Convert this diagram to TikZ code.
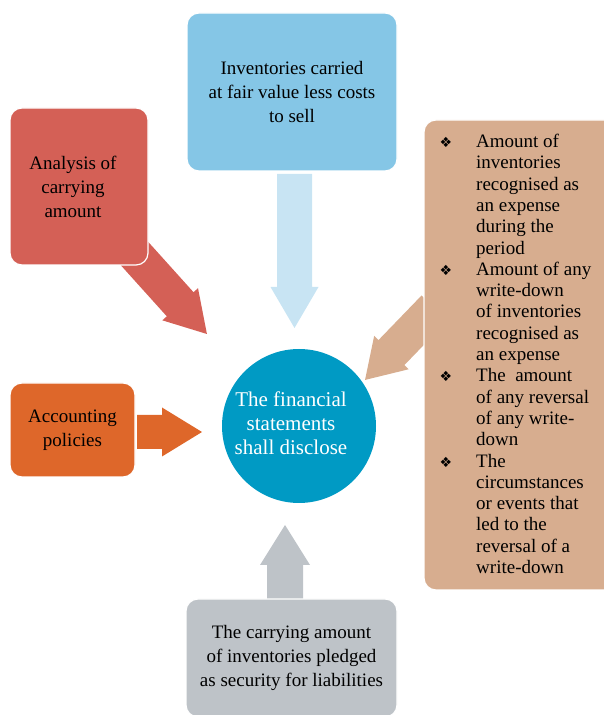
\documentclass[tikz,border=0pt]{standalone}
\usepackage{fontspec}
\setmainfont{Liberation Serif}
\newfontfamily\bulletfont{DejaVu Sans}
\usepackage{xcolor}
\usepackage{tikz}
\usetikzlibrary{positioning, calc}
\definecolor{carryred}{RGB}{212,96,86}
\definecolor{fairblue}{RGB}{133,198,230}
\definecolor{paleblue}{RGB}{200,228,243}
\definecolor{expensetan}{RGB}{215,173,143}
\definecolor{policyorange}{RGB}{222,103,42}
\definecolor{pledgegray}{RGB}{190,195,200}
\definecolor{discloseblue}{RGB}{0,154,196}
\tikzstyle{block} = [rectangle, rounded corners=12pt, draw=white, line width=1.2pt, align=center, text=black, font=\fontsize{19}{24}\selectfont, inner sep=0pt]
\tikzstyle{hub} = [circle, fill=discloseblue, minimum size=154pt, inner sep=0pt, align=center, text=white, font=\fontsize{21}{24}\selectfont]
\tikzstyle{listtext} = [anchor=north west, align=left, inner sep=0pt, text=black, font=\fontsize{19}{21.3}\selectfont]
% fill style, tail, angle, length, half shaft, half head, head length
\newcommand{\blockarrow}[7]{%
  \fill[#1, shift={(#2)}, rotate=#3] (0,-#5) -- ({#4-#7},-#5) -- ({#4-#7},-#6) -- (#4,0) -- ({#4-#7},#6) -- ({#4-#7},#5) -- (0,#5) -- cycle;}
\newcommand{\bul}{\llap{{\bulletfont\fontsize{14}{14}\selectfont ❖}\hspace{24pt}}}

\begin{document}
\begin{tikzpicture}[x=1pt, y=1pt]
    \useasboundingbox (0,0) rectangle (603,715);
    % Centre circle
    \node (disclose) [hub] at (299,289) {};
    \node (disclosetext) [align=center, text=white, font=\fontsize{21}{24}\selectfont] at (291,292) {The financial\\statements\\shall disclose};

    % Boxes (positions only, drawn after the arrows)
    \path (292,623) coordinate (fairpos)
          (79,528.5) coordinate (carrypos)
          (522,360) coordinate (expensepos)
          (72.5,285) coordinate (policypos)
          (291.5,57) coordinate (pledgepos);

    % Arrow ends
    \coordinate (fairtail) at ([xshift=2.5pt, yshift=-82pt]fairpos);
    \coordinate (pledgetail) at ([xshift=-6.5pt, yshift=58pt]pledgepos);
    \coordinate (policytail) at ([xshift=64.5pt, yshift=-2pt]policypos);
    \coordinate (carrytail) at ([xshift=55pt, yshift=-66.5pt]carrypos);
    \coordinate (expensetail) at ([xshift=-87.5pt, yshift=47pt]expensepos);

    % Arrows
    \blockarrow{paleblue}{fairtail}{-90}{154}{17.5}{24}{41}
    \blockarrow{pledgegray}{pledgetail}{90}{75}{18}{25}{40}
    \blockarrow{policyorange}{policytail}{0}{65}{17}{24.5}{40}
    \blockarrow{carryred}{carrytail}{-48}{109}{18}{24}{40}
    \blockarrow{expensetan}{expensetail}{226}{100}{18}{24}{38}

    % Boxes
    \node (fair) [block, fill=fairblue, minimum width=210pt, minimum height=158pt] at (fairpos) {Inventories carried\\at fair value less costs\\to sell};
    \node (carry) [block, fill=carryred, minimum width=138pt, minimum height=157pt] at (carrypos) {};
    \node (carrytext) [align=center, font=\fontsize{19}{24}\selectfont] at ([xshift=-6pt]carrypos) {Analysis of\\carrying\\amount};
    \node (policy) [block, fill=policyorange, minimum width=125pt, minimum height=94pt] at (policypos) {Accounting\\policies};
    \node (pledged) [block, fill=pledgegray, minimum width=211pt, minimum height=118pt] at (pledgepos) {The carrying amount\\of inventories pledged\\as security for liabilities};
    \node (expense) [block, fill=expensetan, minimum width=196pt, minimum height=470pt] at (expensepos) {};
    \node (items) [listtext] at (476,581) {\bul Amount of\\inventories\\recognised as\\an expense\\during the\\period\\
        \bul Amount of any\\write-down\\of inventories\\recognised as\\an expense\\
        \bul The\ \ amount\\of\ any\ reversal\\of\ any\ write-\\down\\
        \bul The\\circumstances\\or\ events\ that\\led\ to\ the\\reversal\ of\ a\\write-down};
\end{tikzpicture}
\end{document}
